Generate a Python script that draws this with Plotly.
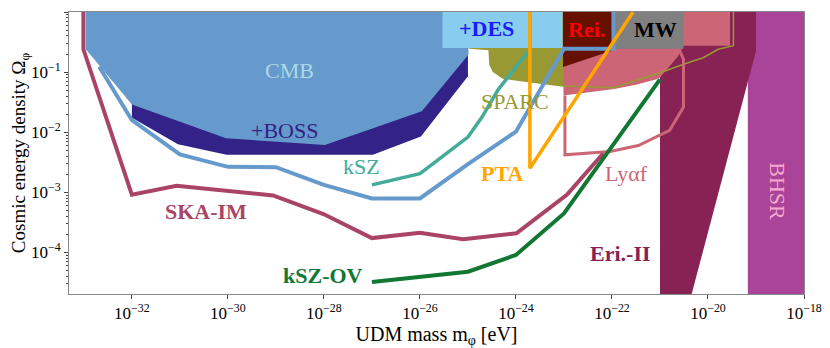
import numpy as np
import plotly.graph_objects as go

# every value below is log10: mass m_phi [eV] and Omega_phi

# filled regions
cmb_m = [-32.96, -32.96, -32.0, -30.04, -27.98, -25.96, -24.99, -24.99]
cmb_o = [0, -0.62, -1.54, -2.10, -2.21, -1.65, -0.71, 0]

boss_m = [-32.0, -32.0, -31.04, -30.03, -26.98, -25.98, -25.0, -25.0, -32.0]
boss_o = [0, -1.76, -2.20, -2.375, -2.375, -2.07, -1.07, 0, 0]

des_m = [-25.53, -23.03, -23.03, -25.53]
des_o = [-0.597, -0.597, 0, 0]

sparc_m = [-24.96, -24.96, -24.56, -24.54, -24.47, -24.27, -23.71, -23.01, -21.97,
           -21.42, -21.0, -20.51, -20.1, -19.79, -19.47, -19.47]
sparc_o = [0, -0.60, -0.625, -0.875, -0.99, -1.10, -1.16, -1.23, -1.26,
           -1.12, -1.01, -0.87, -0.76, -0.62, -0.56, 0]

rei_m = [-23.02, -21.97, -21.97, -22.02, -23.02]
rei_o = [0, 0, -0.62, -0.65, -0.913]

mw_m = [-21.95, -20.51, -20.51, -21.95]
mw_o = [-0.61, -0.61, 0, 0]

lya_fill_m = [-23.01, -19.54, -19.54, -20.51, -20.62, -21.0, -21.07, -21.5, -21.95, -22.5, -23.01]
lya_fill_o = [0, 0, -0.563, -0.563, -0.73, -1.09, -1.12, -1.21, -1.28, -1.34, -1.39]

eri_m = [-21.0, -21.0, -19.0, -19.0, -20.34]
eri_o = [-4.69, 0, 0, -0.647, -4.69]

bhsr_m = [-19.17, -18.0, -18.0, -19.17]
bhsr_o = [-4.69, -4.69, 0, 0]

# forecast / bound lines
ska_m = [-33.01, -33.01, -32.0, -31.07, -29.06, -28.01, -27.0, -26.0, -25.1, -23.99, -22.94, -22.18]
ska_o = [0, -0.62, -3.04, -2.89, -3.05, -3.36, -3.76, -3.67, -3.78, -3.68, -3.04, -2.35]

ksz_m = [-32.68, -32, -31, -30, -29, -28, -27, -26, -25, -24, -23.0, -21.97, -21.97]
ksz_o = [-0.91, -1.80, -2.37, -2.575, -2.58, -2.875, -3.10, -3.10, -2.53, -1.99, -0.61, -0.61, 0]

ksz2_m = [-27, -26, -25, -24.7, -24.37, -23.71, -23.71]
ksz2_o = [-2.875, -2.69, -2.08, -1.74, -1.29, -0.62, 0]

pta_m = [-23.71, -23.71, -21.56]
pta_o = [0, -2.6, 0]

kszov_m = [-27, -26, -25, -24, -23, -21]
kszov_o = [-4.49, -4.40, -4.32, -4.04, -3.35, -1.12]

lya_m = [-20.6, -20.51, -20.51, -20.8, -21.45, -22.04, -22.98, -22.98]
lya_o = [-0.62, -0.79, -1.58, -1.97, -2.22, -2.32, -2.375, -1.39]

x_ticks = [-32, -30, -28, -26, -24, -22, -20, -18]
y_ticks = [-4, -3, -2, -1, 0]

SERIF = "Liberation Serif, DejaVu Serif, serif"


def pts(m, o):
    return 10 ** np.array(m, dtype=float), 10 ** np.array(o, dtype=float)


def add_fill(fig, m, o, color):
    x, y = pts(m, o)
    fig.add_trace(go.Scatter(x=x, y=y, mode="lines", fill="toself", fillcolor=color,
                             line=dict(width=0, color=color), hoverinfo="skip"))


def add_line(fig, m, o, color, width):
    x, y = pts(m, o)
    fig.add_trace(go.Scatter(x=x, y=y, mode="lines", line=dict(color=color, width=width),
                             hoverinfo="skip"))


fig = go.Figure()

add_fill(fig, bhsr_m, bhsr_o, "#AA4499")
add_fill(fig, sparc_m, sparc_o, "#999933")
add_fill(fig, eri_m, eri_o, "#882255")
add_fill(fig, lya_fill_m, lya_fill_o, "#CC6677")
add_fill(fig, boss_m, boss_o, "#332288")
add_fill(fig, cmb_m, cmb_o, "#6699CC")
add_line(fig, sparc_m, sparc_o, "#999933", 1.5)
add_fill(fig, rei_m, rei_o, "#661100")
add_fill(fig, des_m, des_o, "#88CCEE")
add_fill(fig, mw_m, mw_o, "#808080")

add_line(fig, lya_m, lya_o, "#CC6677", 3)
add_line(fig, ska_m, ska_o, "#AA4466", 4)
add_line(fig, ksz_m, ksz_o, "#6699CC", 4)
add_line(fig, ksz2_m, ksz2_o, "#44AA99", 3.5)
add_line(fig, pta_m, pta_o, "#FFA500", 3.5)
add_line(fig, kszov_m, kszov_o, "#117733", 4)

# labels (annotation coords are log10 on log axes)
labels = [
    (-28.71, -0.97, "CMB", "#ADD8E6", 0),
    (-28.83, -1.97, "+BOSS", "#332288", 0),
    (-24.61, -0.28, "<b>+DES</b>", "#1a1aff", 0),
    (-22.53, -0.29, "<b>Rei.</b>", "#ff0000", 0),
    (-21.10, -0.29, "<b>MW</b>", "#000000", 0),
    (-24.01, -1.49, "SPARC", "#999933", 0),
    (-27.21, -2.57, "kSZ", "#44AA99", 0),
    (-24.30, -2.68, "<b>PTA</b>", "#FFA500", 0),
    (-21.69, -2.68, "Ly\u03b1f", "#CC6677", 0),
    (-30.46, -3.32, "<b>SKA-IM</b>", "#AA4466", 0),
    (-28.01, -4.375, "<b>kSZ-OV</b>", "#117733", 0),
    (-21.83, -4.01, "<b>Eri.-II</b>", "#882255", 0),
    (-18.57, -2.975, "BHSR", "#F7A8CF", 90),
]
for lx, ly, txt, col, ang in labels:
    fig.add_annotation(x=lx, y=ly, text=txt, showarrow=False, textangle=ang,
                       font=dict(family=SERIF, size=22, color=col))

# the page body has an 8px margin, so the figure is made 8px smaller
fig.update_layout(
    width=822, height=340,
    margin=dict(l=61, r=26, t=4, b=54),
    plot_bgcolor="white", paper_bgcolor="white",
    showlegend=False,
    font=dict(family=SERIF, color="black"),
    xaxis=dict(
        type="log", range=[-33.31, -18.0], automargin=False,
        tickvals=[10.0 ** v for v in x_ticks],
        ticktext=["10<sup>\u2212%d</sup>" % (-v) for v in x_ticks],
        ticks="outside", ticklen=4, tickcolor="#444",
        showgrid=False, zeroline=False,
        showline=True, linecolor="#888", linewidth=1, mirror=True,
        tickfont=dict(family=SERIF, size=17),
        title=dict(text="UDM mass m<sub>\u03c6</sub> [eV]", font=dict(family=SERIF, size=20), standoff=2),
    ),
    yaxis=dict(
        type="log", range=[-4.69, 0], automargin=False,
        tickvals=[10.0 ** v for v in y_ticks],
        ticktext=[("10<sup>\u2212%d</sup>" % (-v)) if v < 0 else "10<sup>0</sup>" for v in y_ticks],
        ticks="outside", ticklen=4, tickcolor="#444",
        minor=dict(ticks="outside", ticklen=2, tickcolor="#444", dtick="D1"),
        showgrid=False, zeroline=False,
        showline=True, linecolor="#888", linewidth=1, mirror=True,
        tickfont=dict(family=SERIF, size=17),
        title=dict(text="Cosmic energy density \u03a9<sub>\u03c6</sub>", font=dict(family=SERIF, size=19), standoff=2),
    ),
)

fig.write_html("out.html")
